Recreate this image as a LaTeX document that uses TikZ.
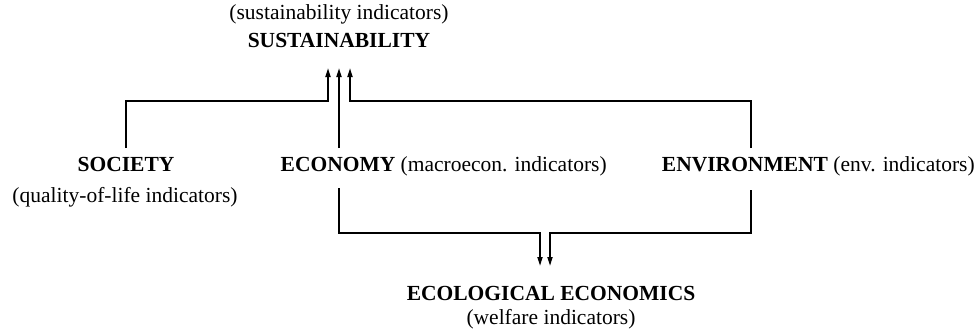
\documentclass[tikz,border=0pt]{standalone}
\usepackage{fontspec}
\setmainfont{Liberation Serif}
\usetikzlibrary{arrows.meta}
\begin{document}
\begin{tikzpicture}[x=1pt,y=-1pt,
  lbl/.style={inner sep=0pt,anchor=base,font=\fontsize{21.5}{25}\selectfont},
  hd/.style={lbl,font=\fontsize{21.5}{25}\selectfont\bfseries},
  link/.style={line width=1.8pt,line join=miter},
  arr/.style={link,-{Triangle[length=9pt,width=5pt]}}]
\useasboundingbox (0,0) rectangle (977,333);

% headings and indicator labels
\node[lbl] (sustind) at (339,19) {(sustainability indicators)};
\node[hd]  (sust)    at (339,47) {SUSTAINABILITY};
\node[hd]  (society) at (126,171) {SOCIETY};
\node[lbl] (qol)     at (125,202) {(quality-of-life indicators)};
\node[hd]  (economy) at (338,171) {ECONOMY};
\node[lbl,anchor=base west] (macro) at ([xshift=5pt]economy.base east) {(macroecon. indicators)};
\node[hd]  (environment) at (745,171) {ENVIRONMENT};
\node[lbl,anchor=base west] (envind) at ([xshift=5pt]environment.base east) {(env. indicators)};
\node[hd]  (eco)     at (551,300) {ECOLOGICAL ECONOMICS};
\node[lbl] (welfare) at (551,324) {(welfare indicators)};

% line ends next to the labels
\coordinate (socTop) at (126,148);
\coordinate (ecoTop) at (339,148);
\coordinate (envTop) at (751,148);
\coordinate (ecoBot) at (339,188);
\coordinate (envBot) at (751,190);

% links up to SUSTAINABILITY
\draw[arr] (socTop) -- (126,101) -- (328,101) -- (328,68);
\draw[arr] (ecoTop) -- (339,68);
\draw[arr] (envTop) -- (751,101) -- (350,101) -- (350,68);

% links down to ECOLOGICAL ECONOMICS
\draw[arr] (ecoBot) -- (339,233) -- (540,233) -- (540,266);
\draw[arr] (envBot) -- (751,233) -- (550,233) -- (550,266);
\end{tikzpicture}
\end{document}
